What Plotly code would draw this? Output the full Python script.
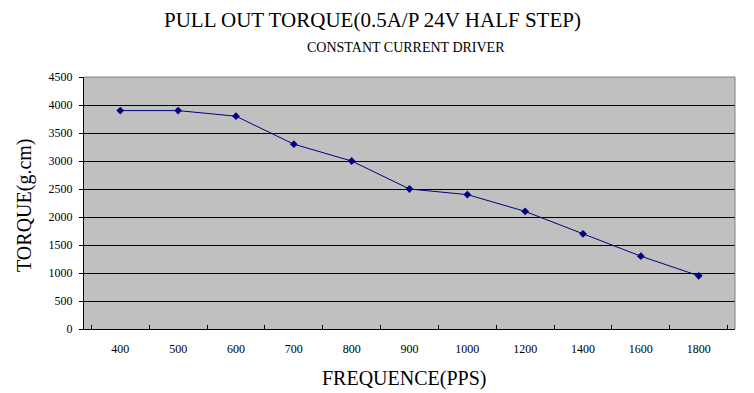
import plotly.graph_objects as go

frequencies = ["400", "500", "600", "700", "800", "900", "1000", "1200", "1400", "1600", "1800"]
torque = [3900, 3900, 3800, 3300, 3000, 2500, 2400, 2100, 1700, 1300, 950]
y_ticks = [0, 500, 1000, 1500, 2000, 2500, 3000, 3500, 4000, 4500]

FONT = "Liberation Serif"
L, R, T, B = 84, 19, 77, 64
W, H = 754, 393
pw = W - L - R
ph = H - T - B

def px_x(x):
    return (x - L) / pw

def px_y(y):
    return (H - B - y) / ph

fig = go.Figure()
fig.add_trace(go.Scatter(
    x=frequencies, y=torque, mode="lines+markers",
    line=dict(color="#000080", width=1),
    marker=dict(symbol="diamond", size=6, color="#000080"),
    showlegend=False,
))

fig.update_layout(
    width=W, height=H,
    margin=dict(l=L, r=R, t=T, b=B),
    paper_bgcolor="white",
    plot_bgcolor="#c0c0c0",
    font=dict(family=FONT, color="black"),
    annotations=[
        dict(text="PULL OUT TORQUE(0.5A/P 24V HALF STEP)", x=px_x(372), y=px_y(20), xref="paper", yref="paper",
             showarrow=False, font=dict(size=21, family=FONT), xanchor="center", yanchor="middle"),
        dict(text="CONSTANT CURRENT DRIVER", x=px_x(406), y=px_y(48), xref="paper", yref="paper",
             showarrow=False, font=dict(size=14, family=FONT), xanchor="center", yanchor="middle"),
        dict(text="FREQUENCE(PPS)", x=px_x(404), y=px_y(378), xref="paper", yref="paper",
             showarrow=False, font=dict(size=20, family=FONT), xanchor="center", yanchor="middle"),
        dict(text="TORQUE(g.cm)", x=px_x(24), y=px_y(205), xref="paper", yref="paper", textangle=-90,
             showarrow=False, font=dict(size=20, family=FONT), xanchor="center", yanchor="middle"),
    ],
)

fig.update_xaxes(
    type="category", tickson="boundaries", ticks="inside", ticklen=4, tickcolor="black",
    showgrid=False, showline=True, linecolor="black", linewidth=1, automargin=False,
    tickfont=dict(size=12, family=FONT), ticklabelstandoff=9,
)
fig.update_yaxes(
    range=[0, 4500], tickvals=y_ticks, ticks="outside", ticklen=4, tickcolor="black",
    showgrid=True, gridcolor="black", gridwidth=1, automargin=False,
    showline=True, linecolor="black", linewidth=1, zeroline=False,
    tickfont=dict(size=12, family=FONT), ticklabelstandoff=4,
)
fig.add_shape(type="line", xref="paper", yref="paper", x0=0, x1=1, y0=1, y1=1,
              line=dict(color="#808080", width=1))
fig.add_shape(type="line", xref="paper", yref="paper", x0=1, x1=1, y0=0, y1=1,
              line=dict(color="#808080", width=1))

fig.write_html("out.html", config={"displayModeBar": False})

with open("out.html", "r", encoding="utf-8") as f:
    html = f.read()
html = html.replace("<body>", '<body style="margin:0;padding:0;">', 1)
with open("out.html", "w", encoding="utf-8") as f:
    f.write(html)
